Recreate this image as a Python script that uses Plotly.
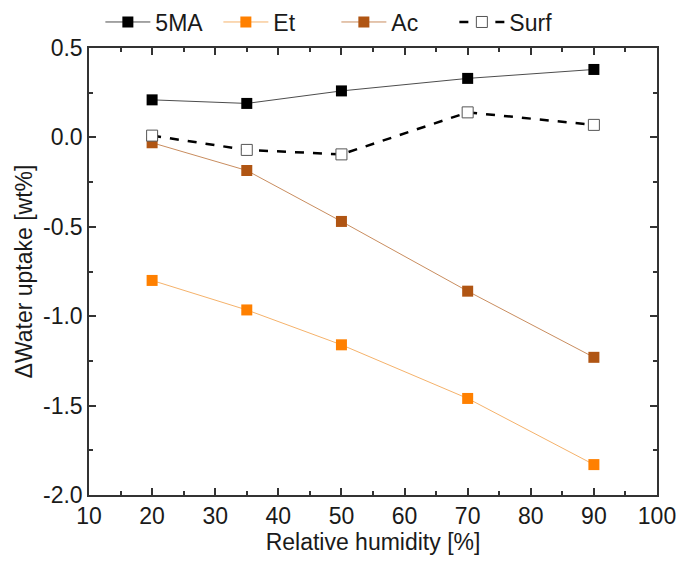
import plotly.graph_objects as go

rh = [20, 35, 50, 70, 90]
ma5 = [0.21, 0.19, 0.26, 0.33, 0.38]
et = [-0.80, -0.965, -1.16, -1.46, -1.83]
ac = [-0.03, -0.185, -0.47, -0.86, -1.23]
surf = [0.01, -0.07, -0.095, 0.14, 0.07]

x_ticks = [10, 20, 30, 40, 50, 60, 70, 80, 90, 100]
y_ticks = [-2.0, -1.5, -1.0, -0.5, 0.0, 0.5]
y_ticklabels = ["-2.0", "-1.5", "-1.0", "-0.5", "0.0", "0.5"]

FONT = "Liberation Sans, Arial"
FS = 23

fig = go.Figure()
fig.add_trace(go.Scatter(x=rh, y=ma5, name="5MA", mode="lines+markers",
                         line=dict(color="#4d4d4d", width=1),
                         marker=dict(symbol="square", size=11, color="black")))
fig.add_trace(go.Scatter(x=rh, y=et, name="Et", mode="lines+markers",
                         line=dict(color="#f5b26b", width=1),
                         marker=dict(symbol="square", size=11, color="#ff8000")))
fig.add_trace(go.Scatter(x=rh, y=ac, name="Ac", mode="lines+markers",
                         line=dict(color="#c98d5f", width=1),
                         marker=dict(symbol="square", size=11, color="#b05513")))
fig.add_trace(go.Scatter(x=rh, y=surf, name="Surf", mode="lines+markers",
                         line=dict(color="black", width=2.5, dash="dash"),
                         marker=dict(symbol="square", size=11, color="white",
                                     line=dict(color="#555555", width=1))))

axis_common = dict(showline=True, linecolor="#333333", linewidth=1.5, mirror="ticks",
                   ticks="inside", tickcolor="#333333", ticklen=7, tickwidth=1.5,
                   showgrid=False, zeroline=False,
                   tickfont=dict(family=FONT, size=FS, color="#1a1a1a"))

fig.update_xaxes(range=[10, 100], tickvals=x_ticks,
                 title=dict(text="Relative humidity [%]", font=dict(family=FONT, size=FS, color="#1a1a1a"), standoff=2),
                 minor=dict(ticks="inside", ticklen=4, tickcolor="#333333", tickwidth=1.5, dtick=5, tick0=10),
                 **axis_common)
fig.update_yaxes(range=[-2.0, 0.5], tickvals=y_ticks, ticktext=y_ticklabels,
                 title=dict(text="ΔWater uptake [wt%]", font=dict(family=FONT, size=FS, color="#1a1a1a"), standoff=4),
                 minor=dict(ticks="inside", ticklen=4, tickcolor="#333333", tickwidth=1.5, dtick=0.25, tick0=0),
                 **axis_common)

fig.update_layout(
    width=684, height=561,
    margin=dict(l=89, r=27, t=48, b=66, autoexpand=False),
    paper_bgcolor="white", plot_bgcolor="white",
    font=dict(family=FONT, size=FS, color="#1a1a1a"),
    legend=dict(orientation="h", x=0.02, xanchor="left", y=1.01, yanchor="bottom",
                font=dict(size=FS), bgcolor="rgba(0,0,0,0)", entrywidth=58,
                itemwidth=45),
    showlegend=True,
)

fig.write_html("out.html")
